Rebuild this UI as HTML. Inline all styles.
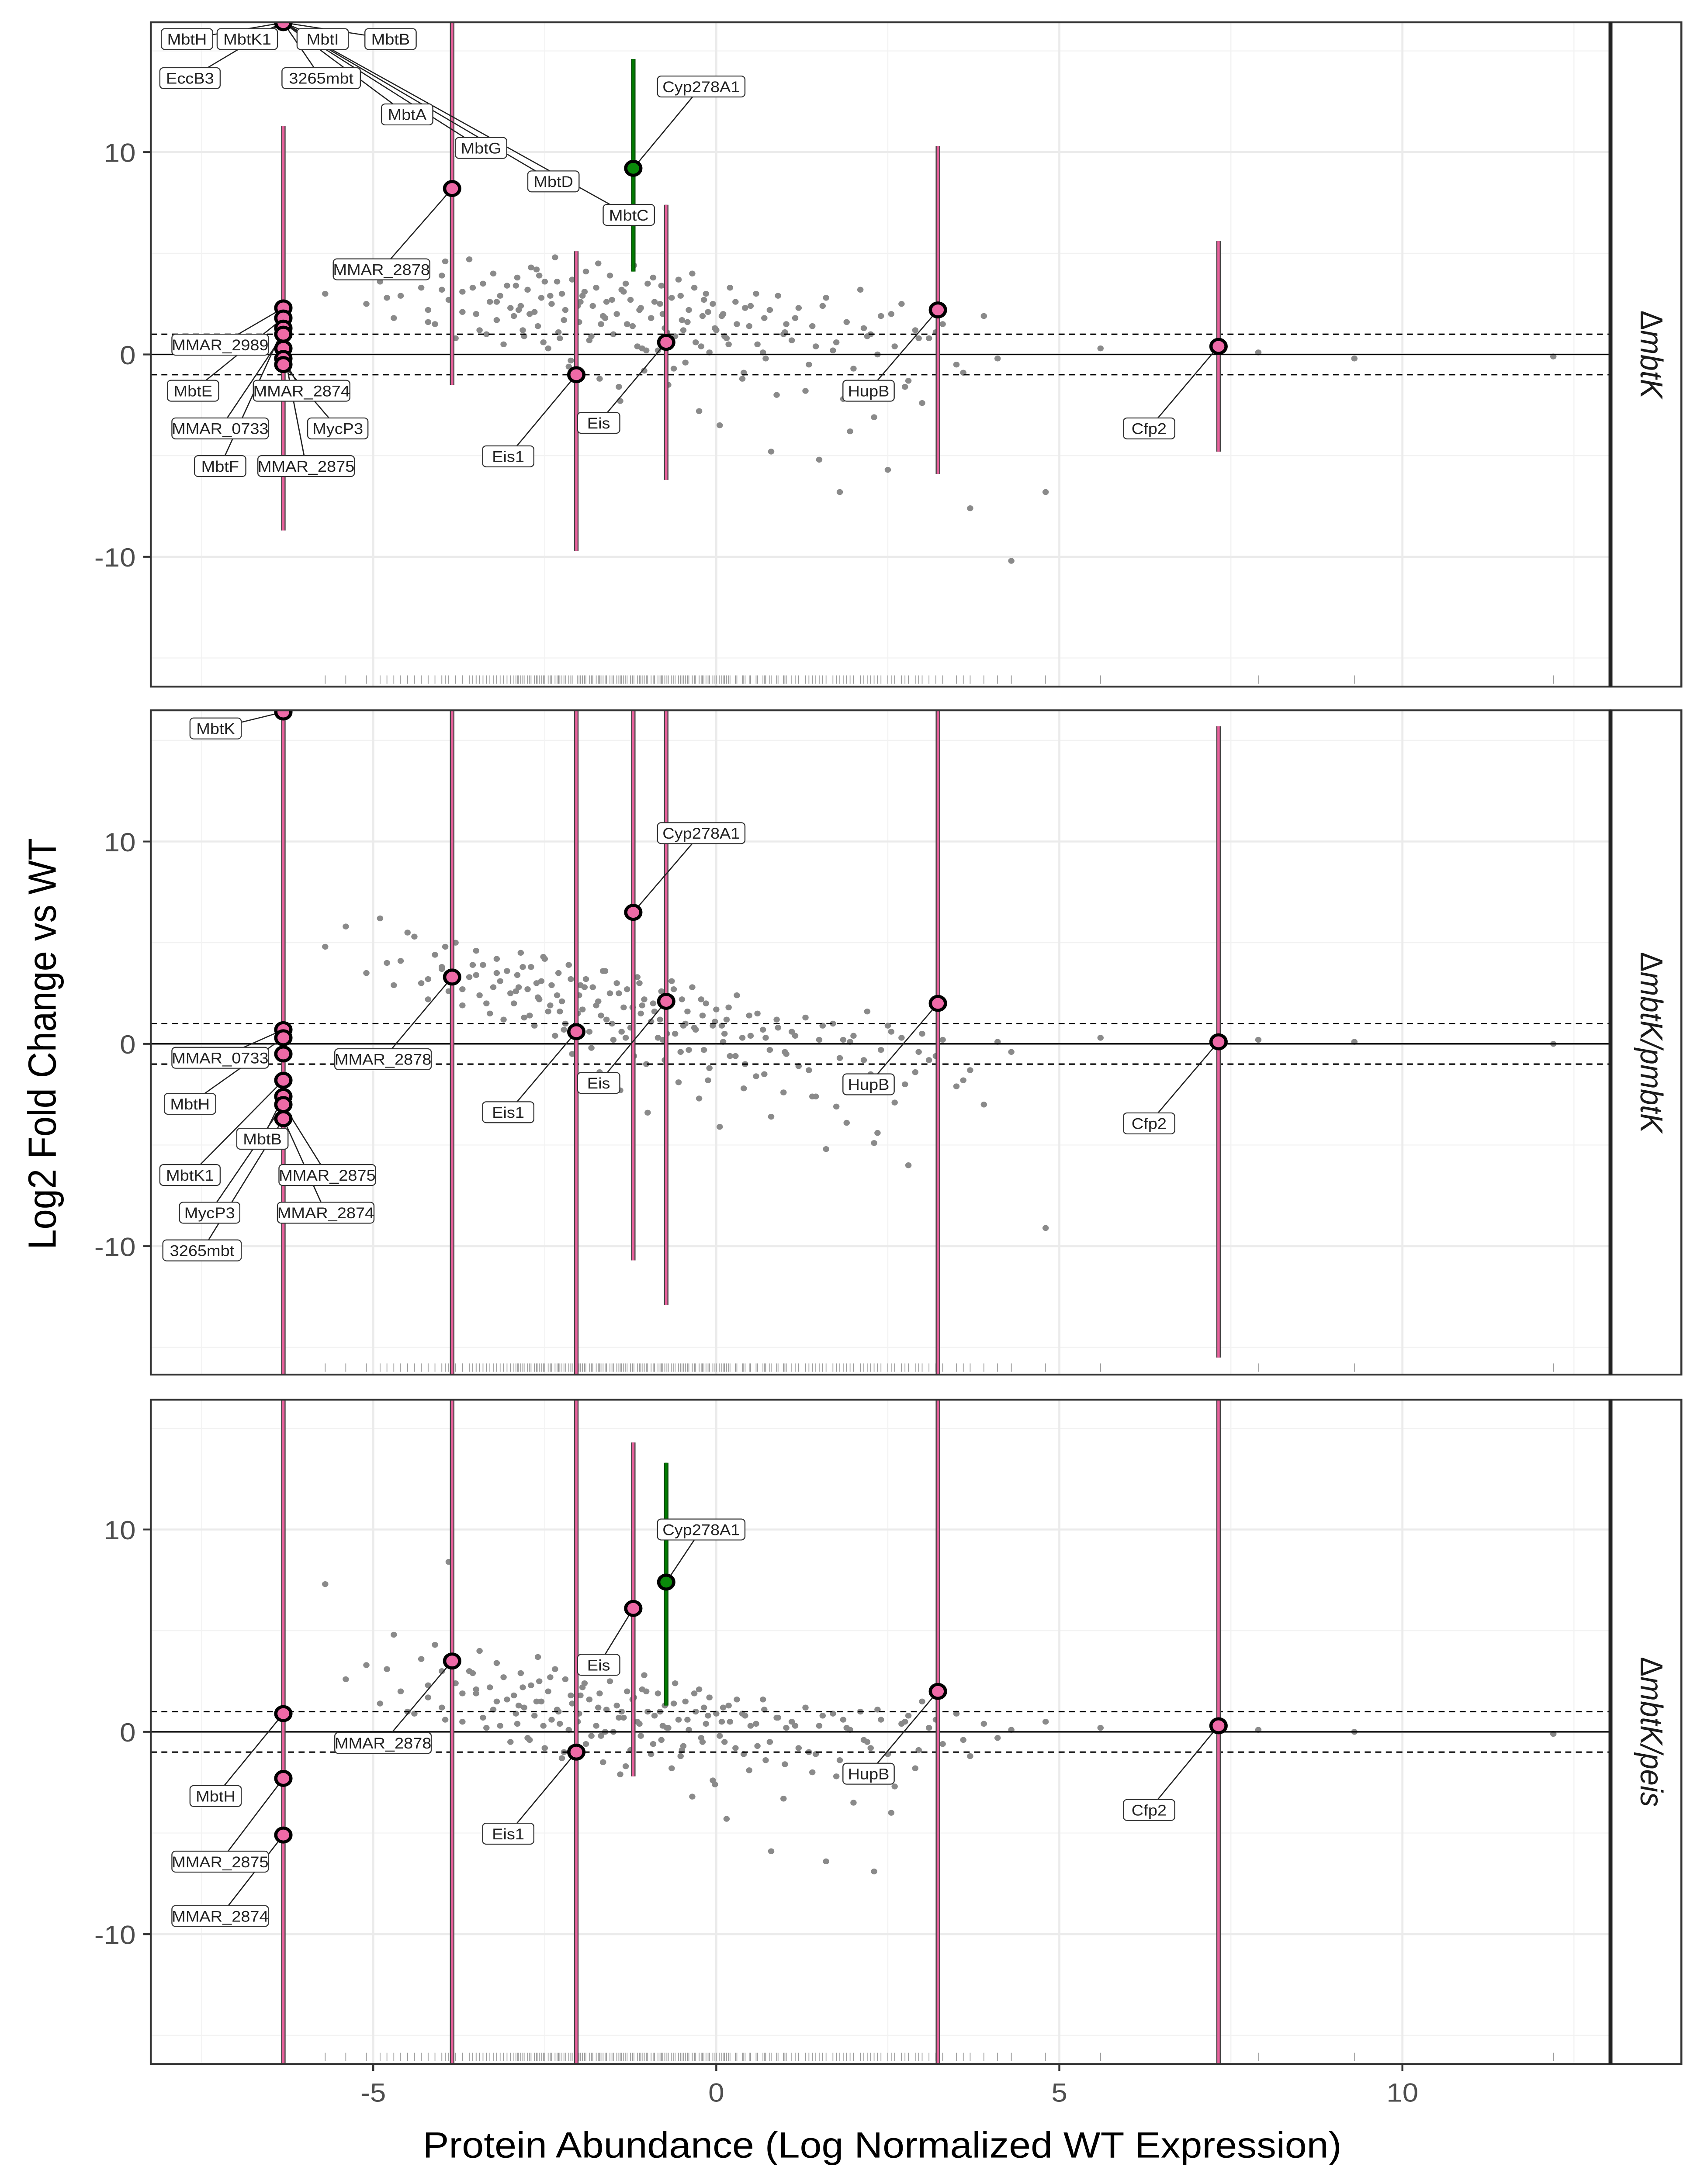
<!DOCTYPE html>
<html><head><meta charset="utf-8">
<style>
html,body{margin:0;padding:0;background:#fff;width:100%;height:100%;overflow:hidden;}
svg{display:block;position:fixed;left:0;top:0;width:100vw;height:100vh;}
text{font-family:"Liberation Sans",sans-serif;}
</style></head>
<body>
<svg id="chart" xmlns="http://www.w3.org/2000/svg" viewBox="0 0 1130 1565" preserveAspectRatio="none">
<rect x="0" y="0" width="1130" height="1565" fill="#fff"/>
<text x="0" y="0" transform="translate(37,748) rotate(-90)" text-anchor="middle" font-size="26" fill="#000">Log2 Fold Change vs WT</text>
<text x="585" y="1546" text-anchor="middle" font-size="26" fill="#000">Protein Abundance (Log Normalized WT Expression)</text>
</svg>
<script>
// ---- data ----
const xTicks = [-5, 0, 5, 10];
const yTicks = [-10, 0, 10];
const stripLabels = ["mbtK", "mbtK/pmbtK", "mbtK/peis"];
const abund = [-5.7,-5.4,-5.1,-4.9,-4.7,-4.6,-4.4,-4.3,-4.2,-4.1,-4.0,-3.9,-3.8,-3.7,-3.6,-3.5,-3.45,-3.4,-3.3,-3.25,-3.2,-3.15,-3.1,-3.05,-3.0,
-2.95,-2.9,-2.85,-2.8,-2.75,-2.7,-2.65,-2.6,-2.55,-2.5,-2.45,-2.4,-2.35,-2.3,-2.25,-2.2,-2.15,-2.1,-2.0,-1.95,-1.9,-1.85,-1.8,-1.75,-1.7,-1.65,-1.6,-1.55,-1.5,-1.45,-1.4,-1.35,-1.3,-1.25,-1.2,-1.15,-1.1,-1.05,-1.0,-0.95,
-0.9,-0.85,-0.8,-0.75,-0.7,-0.65,-0.6,-0.55,-0.5,-0.45,-0.4,-0.35,-0.3,-0.25,-0.2,-0.15,-0.1,-0.05,0.0,0.05,0.1,0.15,0.2,0.3,0.4,0.5,0.6,0.7,0.8,0.9,1.0,
1.1,1.2,1.3,1.4,1.5,1.6,1.7,1.8,1.9,2.0,2.1,2.2,2.3,2.4,2.5,2.6,2.7,2.8,2.9,3.0,
3.1,3.3,3.5,3.7,3.9,4.1,4.3,4.8,5.6,7.9,9.3,12.2,
-4.8,-4.5,-4.2,-3.95,-3.7,-3.55,-3.35,-3.2,
-2.92,-2.82,-2.72,-2.62,-2.52,-2.42,-2.32,-2.22,-2.12,-2.02,-1.92,-1.82,-1.72,-1.62,-1.52,-1.42,-1.32,-1.22,-1.12,-1.02,-0.92,-0.82,-0.72,-0.62,-0.52,-0.42,-0.32,-0.22,-0.12,-0.02,
0.08,0.18,0.28,0.38,0.48,0.58,0.68,0.78,0.88,0.98,
1.15,1.35,1.55,1.75,1.95,2.15,2.35,2.55,2.75,2.95,
3.2,3.6,
-2.88,-2.58,-2.28,-1.98,-1.68,-1.38,-1.08,-0.78,-0.48,-0.18,
0.12,0.42,0.72,1.02,
1.45,1.85,2.25,
-3.5,-4.0];
const fc1 = [3.0,4.2,2.5,3.6,1.8,2.9,4.5,3.3,2.2,1.5,3.9,2.7,0.8,3.1,4.7,2.0,1.2,3.5,2.6,4.0,1.7,2.9,0.5,3.4,2.3,
1.9,3.8,2.4,0.9,3.2,4.3,2.1,1.4,2.8,3.6,0.3,2.5,4.8,1.1,3.0,2.2,-0.6,3.7,1.6,2.9,4.1,0.7,2.4,3.3,-1.2,1.9,2.6,3.9,1.0,2.0,-2.3,3.1,1.5,2.7,4.4,0.4,2.3,-0.8,3.5,1.8,
2.6,0.2,3.4,1.3,-1.5,2.8,0.9,3.7,1.7,-0.4,2.2,4.0,0.6,-2.8,1.9,3.0,0.1,2.5,1.2,-3.5,2.0,0.8,3.3,1.5,-0.9,2.4,0.5,1.8,-4.8,2.9,1.1,
0.7,2.3,-1.8,1.4,-5.2,2.8,0.2,-6.8,1.6,-0.7,3.2,0.9,-3.1,1.9,-5.7,0.4,2.5,-1.3,1.2,-2.4,
0.8,1.5,-0.5,-7.6,1.9,-0.2,-10.2,-6.8,0.3,0.1,-0.2,-0.1,
2.8,3.9,1.6,4.6,2.1,3.3,1.0,2.6,
3.4,1.2,2.0,4.2,0.6,2.9,3.6,1.7,-0.3,2.4,3.1,0.9,4.5,1.8,2.7,-1.6,3.5,1.4,2.2,0.2,3.8,2.5,1.1,-0.7,2.9,1.6,3.3,0.4,2.1,1.3,
1.9,0.5,2.6,-1.2,1.4,3.0,0.1,2.2,-2.0,1.0,
1.8,-0.5,2.4,0.6,-3.8,1.3,0.0,2.0,-1.6,0.8,
1.1,-0.9,
2.2,3.9,0.8,2.6,1.5,3.2,0.3,2.0,1.2,2.7,
0.9,2.3,-0.2,1.5,
0.4,-2.2,1.0,
2.0,3.2];
const fc2 = [4.8,5.8,3.5,6.2,2.9,4.1,5.3,3.0,2.2,4.4,3.7,2.6,5.0,1.9,3.3,4.6,2.4,3.9,1.5,2.8,4.2,3.1,1.2,3.6,2.5,
2.0,3.4,4.5,1.3,2.7,3.8,0.9,2.3,3.1,4.2,1.6,2.9,0.4,3.5,2.1,1.0,3.9,-0.5,2.4,1.7,3.2,0.6,2.8,1.9,-1.4,3.6,1.2,2.5,0.2,3.0,-2.3,1.8,2.7,0.8,-0.6,3.3,1.5,2.2,-3.4,1.1,
1.6,0.3,2.6,-0.8,1.9,3.1,0.5,-1.9,2.2,1.0,-0.3,2.8,0.7,-2.7,1.4,2.0,-1.2,0.9,1.7,-4.1,0.1,1.2,-0.6,2.4,-2.2,0.4,1.5,-1.5,-3.6,0.8,-0.4,
0.6,-1.1,1.3,-2.6,0.2,-5.2,1.0,-0.7,-3.9,0.4,-1.8,1.6,-4.9,-0.3,0.9,-2.9,0.3,-6.0,-1.4,0.5,
-0.8,0.2,-2.1,-1.3,-3.0,0.1,-0.4,-9.1,0.3,0.2,0.1,0.0,
4.0,5.5,3.2,4.8,2.7,3.9,2.0,3.5,
2.6,3.8,1.4,3.0,4.3,1.9,2.4,0.7,3.2,1.5,2.8,-0.2,2.1,3.6,1.0,2.5,0.3,1.8,3.0,-1.0,2.0,1.2,0.5,2.7,-0.4,1.6,0.8,2.2,-1.8,1.1,
0.9,1.8,-0.6,0.3,1.4,-1.6,0.7,-0.3,1.2,-2.4,
0.4,-1.3,0.9,-3.1,0.1,-0.8,-4.4,0.6,-2.0,-0.4,
-0.6,-1.8,
2.8,2.2,1.6,2.9,1.4,0.6,1.9,0.2,0.9,-0.3,
0.5,-1.0,0.3,-0.5,
-2.6,0.2,-1.5,
3.4,3.8];
const fc3 = [7.3,2.6,3.3,1.4,4.8,2.0,0.9,3.6,1.7,4.3,1.2,8.4,2.4,0.5,3.0,1.9,4.0,0.7,2.2,1.1,3.4,0.3,2.7,1.6,-0.5,
1.8,0.4,2.9,1.2,-0.3,2.3,0.8,3.7,1.5,-0.8,2.0,0.6,3.1,1.0,-1.3,2.6,0.1,1.4,0.9,2.2,-0.6,1.6,3.0,0.3,1.9,-1.5,1.1,2.5,0.0,1.3,-2.1,0.7,2.0,-0.9,1.7,0.5,-0.2,2.8,1.0,-1.1,
0.8,1.9,-0.4,1.3,0.2,-1.8,2.4,0.6,-0.9,1.5,0.1,-3.2,1.0,2.1,-0.5,0.4,1.7,-2.4,0.9,-0.2,1.2,-4.3,0.5,1.6,-1.1,0.3,-0.7,1.1,-5.9,0.7,-1.6,
0.5,-0.8,1.2,-2.0,0.3,-6.4,0.9,-1.4,0.2,-3.5,1.0,-0.5,-6.9,0.6,-1.1,-2.7,0.4,0.8,-1.8,1.5,
0.2,-0.6,0.9,-1.2,0.4,-0.3,0.1,0.5,0.2,0.1,0.0,-0.1,
3.1,1.0,2.3,0.6,1.9,2.9,0.2,1.5,
0.9,2.2,-0.4,1.5,0.3,2.7,1.1,-1.0,1.8,0.5,2.4,-0.2,1.2,0.0,3.2,0.7,-1.7,1.6,0.4,2.0,-0.6,1.0,0.2,1.4,-1.2,0.6,1.9,-0.3,0.8,-2.6,
0.5,1.3,-0.8,0.9,-1.9,0.4,1.6,-0.5,0.7,-3.3,
0.3,-1.0,0.8,-2.2,0.1,-0.4,1.1,-4.0,0.5,-0.9,
0.6,-0.4,
1.3,2.5,0.4,1.8,-0.2,1.0,2.1,0.3,-0.7,1.2,
-0.5,0.8,-1.4,0.2,
-1.1,0.6,-0.8,
2.1,3.0];
// highlighted genes: cluster, MMAR_2878, Eis1, Cyp278A1, Eis, HupB, Cfp2
const geneX = [-6.31,-3.85,-2.04,-1.21,-0.73,3.23,7.32];
const p1Val = [null,8.2,-1.0,9.2,0.6,2.2,0.4];
const p1Lo = [-8.7,-1.5,-9.7,4.1,-6.2,-5.9,-4.8];
const p1Hi = [11.3,20,5.1,14.6,7.4,10.3,5.6];
const p1Green = [false,false,false,true,false,false,false];
const p2Val = [null,3.3,0.6,6.5,2.1,2.0,0.1];
const p2Lo = [-20,-20,-20,-10.7,-12.9,-20,-15.5];
const p2Hi = [20,20,20,20,20,20,15.7];
const p2Green = [false,false,false,false,false,false,false];
const p3Val = [null,3.5,-1.0,6.1,7.4,2.0,0.3];
const p3Lo = [-20,-20,-20,-2.2,1.3,-20,-20];
const p3Hi = [20,20,20,14.3,13.3,20,20];
const p3Green = [false,false,false,false,true,false,false];
const clus1 = [16.4,16.4,16.4,2.3,1.8,1.3,1.0,0.3,-0.2,-0.5];
const clus2 = [16.4,0.7,0.3,-0.5,-1.8,-2.6,-3.0,-3.7];
const clus3 = [0.9,-2.3,-5.1];
// labels: text, anchor x, anchor y (data), box centre (px)
const labels1 = [["MbtH",-6.31,16.4,124,28],["EccB3",-6.31,16.4,126,56],["MbtK1",-6.31,16.4,164,28],["MbtI",-6.31,16.4,214,28],["MbtB",-6.31,16.4,259,28],["3265mbt",-6.31,16.4,213,56],["MbtA",-6.31,16.4,270,82],["MbtG",-6.31,16.4,319,106],["MbtD",-6.31,16.4,367,130],["MbtC",-6.31,16.4,417,154],
["Cyp278A1",-1.21,9.2,465,62],["MMAR_2878",-3.85,8.2,253,193],["MMAR_2989",-6.31,2.3,146,247],["MbtE",-6.31,1.8,128,280],["MMAR_2874",-6.31,-0.2,200,280],["MMAR_0733",-6.31,1.0,146,307],["MycP3",-6.31,-0.5,224,307],["MbtF",-6.31,1.3,146,334],["MMAR_2875",-6.31,0.3,203,334],["Eis1",-2.04,-1.0,337,327],["Eis",-0.73,0.6,397,303],["HupB",3.23,2.2,576,280],["Cfp2",7.32,0.4,762,307]];
const labels2 = [["MbtK",-6.31,16.4,143,522],["Cyp278A1",-1.21,6.5,465,597],["MMAR_0733",-6.31,0.7,146,758],["MMAR_2878",-3.85,3.3,254,759],["Eis",-0.73,2.1,397,776],["Eis1",-2.04,0.6,337,797],["HupB",3.23,2.0,576,777],["Cfp2",7.32,0.1,762,805],["MbtH",-6.31,0.3,126,791],["MbtB",-6.31,-2.6,174,816],["MbtK1",-6.31,-1.8,126,842],["MMAR_2875",-6.31,-3.0,217,842],["MycP3",-6.31,-3.0,139,869],["MMAR_2874",-6.31,-3.7,216,869],["3265mbt",-6.31,-3.7,134,896]];
const labels3 = [["Cyp278A1",-0.73,7.4,465,1096],["Eis",-1.21,6.1,397,1193],["MMAR_2878",-3.85,3.5,254,1249],["MbtH",-6.31,0.9,143,1287],["Eis1",-2.04,-1.0,337,1314],["HupB",3.23,2.0,576,1271],["Cfp2",7.32,0.3,762,1297],["MMAR_2875",-6.31,-2.3,146,1334],["MMAR_2874",-6.31,-5.1,146,1373]];

// ---- layout ----
const svg = document.getElementById('chart');
const NS = 'http://www.w3.org/2000/svg';
const L = 100, R = 1068, X0 = 475, XU = 45.5, YU = 14.5;
const panels = [
  {top:16, bot:492, zero:254, fc:fc1, val:p1Val, lo:p1Lo, hi:p1Hi, green:p1Green, clus:clus1, labels:labels1},
  {top:509, bot:985, zero:748, fc:fc2, val:p2Val, lo:p2Lo, hi:p2Hi, green:p2Green, clus:clus2, labels:labels2},
  {top:1003, bot:1479, zero:1241, fc:fc3, val:p3Val, lo:p3Lo, hi:p3Hi, green:p3Green, clus:clus3, labels:labels3}
];
function xs(v){ return X0 + v*XU; }
function mk(tag, attrs, parent){ const e=document.createElementNS(NS,tag); for(const k in attrs) e.setAttribute(k,attrs[k]); (parent||svg).appendChild(e); return e; }

const defs = mk('defs',{});
panels.forEach((p,pi)=>{
  const ys = v => p.zero - v*YU;
  const cp = mk('clipPath',{id:'clip'+pi},defs);
  mk('rect',{x:L,y:p.top,width:R-L,height:p.bot-p.top},cp);
  const g = mk('g',{'clip-path':'url(#clip'+pi+')'});
  
  
  [-7.5,-2.5,2.5,7.5,12.5].forEach(v=>mk('line',{x1:xs(v),x2:xs(v),y1:p.top,y2:p.bot,stroke:'#f2f2f2','stroke-width':0.7},g));
  [-15,-5,5,15].forEach(v=>mk('line',{x1:L,x2:R,y1:ys(v),y2:ys(v),stroke:'#f2f2f2','stroke-width':0.7},g));
  xTicks.forEach(v=>{ const l=mk('line',{x1:xs(v),x2:xs(v),y1:p.top,y2:p.bot,stroke:'#ebebeb','stroke-width':1.4},g);
      });
  yTicks.forEach(v=>{ const l=mk('line',{x1:L,x2:R,y1:ys(v),y2:ys(v),stroke:'#ebebeb','stroke-width':1.4},g);
      });
  abund.forEach((a,i)=>{
    const c = mk('circle',{cx:xs(a),cy:ys(p.fc[i]),r:2.1,fill:'#8a8a8a'},g);
    
    
    const t = mk('line',{x1:xs(a),x2:xs(a),y1:p.bot-8,y2:p.bot-2,stroke:'#999','stroke-width':0.5},g);
    
    
  });
  const z = mk('line',{x1:L,x2:R,y1:ys(0),y2:ys(0),stroke:'#000','stroke-width':1},g);
   
  [1,-1].forEach(v=>{ const d=mk('line',{x1:L,x2:R,y1:ys(v),y2:ys(v),stroke:'#000','stroke-width':1,'stroke-dasharray':'4 3'},g);
      });
  geneX.forEach((gx,i)=>{
    const col = p.green[i] ? '#007a00' : '#e8619c';
    const y1 = ys(Math.min(p.hi[i],20)), y2 = ys(Math.max(p.lo[i],-20));
    mk('line',{x1:xs(gx),x2:xs(gx),y1:y1,y2:y2,stroke:p.green[i]?'#0b4f0b':'#444','stroke-width':3},g);
    const b = mk('line',{x1:xs(gx),x2:xs(gx),y1:y1,y2:y2,stroke:col,'stroke-width':1.6},g);
    
    
  });
  p.labels.forEach(lb=>{
    mk('line',{x1:xs(lb[1]),y1:ys(lb[2]),x2:lb[3],y2:lb[4],stroke:'#222','stroke-width':0.8},g);
  });
  p.clus.forEach(v=>{
    const c = mk('circle',{cx:xs(geneX[0]),cy:ys(v),r:5,fill:'#ee6aa7',stroke:'#000','stroke-width':2.2},g);
    
    
  });
  geneX.forEach((gx,i)=>{
    if(p.val[i]===null) return;
    const c = mk('circle',{cx:xs(gx),cy:ys(p.val[i]),r:5,fill:p.green[i]?'#0a8a0a':'#ee6aa7',stroke:'#000','stroke-width':2.2},g);
    
    
  });
  p.labels.forEach(lb=>{
    const w = lb[0].length*6.0+10, h = 15;
    const lg = mk('g',{},g);
    
    
    mk('rect',{x:lb[3]-w/2,y:lb[4]-h/2,width:w,height:h,rx:2.5,fill:'#fff',stroke:'#333','stroke-width':0.7},lg);
    const t = mk('text',{x:lb[3],y:lb[4]+4,'text-anchor':'middle','font-size':11,fill:'#222'},lg);
    t.textContent = lb[0];
  });
  const br = mk('rect',{x:L,y:p.top,width:R-L,height:p.bot-p.top,fill:'none',stroke:'#333','stroke-width':1.3});
   
  const st = mk('rect',{x:R,y:p.top,width:1115-R,height:p.bot-p.top,fill:'#fff',stroke:'#333','stroke-width':1.3});
   
  mk('line',{x1:R,x2:R,y1:p.top,y2:p.bot,stroke:'#222','stroke-width':2.6});
  const cy = (p.top+p.bot)/2;
  const stx = mk('text',{transform:'translate(1088,'+cy+') rotate(90)','text-anchor':'middle','font-size':21,fill:'#1a1a1a'});
  
  
  const d1 = mk('tspan',{},stx); d1.textContent='Δ';
  const d2 = mk('tspan',{'font-style':'italic'},stx); d2.textContent=stripLabels[pi];
  yTicks.forEach(v=>{
    mk('line',{x1:L-5,x2:L,y1:ys(v),y2:ys(v),stroke:'#333','stroke-width':1.3});
    const t = mk('text',{x:L-10,y:ys(v)+7,'text-anchor':'end','font-size':19,fill:'#4d4d4d'});
    
    
    t.textContent = v;
  });
});
xTicks.forEach(v=>{
  mk('line',{x1:xs(v),x2:xs(v),y1:1479,y2:1484,stroke:'#333','stroke-width':1.3});
  const t = mk('text',{x:xs(v),y:1506,'text-anchor':'middle','font-size':19,fill:'#4d4d4d'});
  
  
  t.textContent = v;
});
</script>
</body></html>
